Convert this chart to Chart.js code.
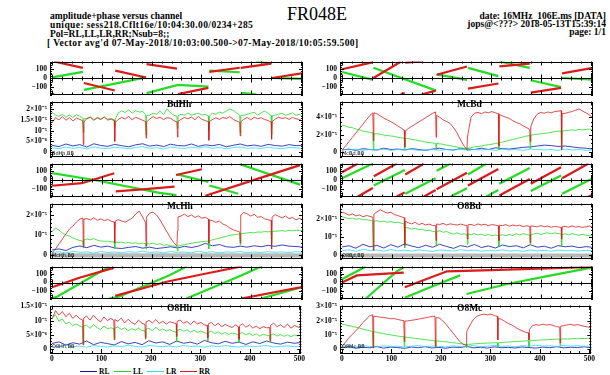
<!DOCTYPE html>
<html lang="en">
<head>
<meta charset="UTF-8">
<title>FR048E amplitude+phase versus channel</title>
<script src="https://cdn.jsdelivr.net/npm/chart.js"></script>
<style>
  body { margin: 0; width: 610px; height: 375px; background: #fff; position: relative; overflow: hidden; font-family: 'Liberation Serif', serif; color: #000; }
  canvas { position: absolute; }
  .hd { position: absolute; font-weight: bold; font-size: 9.5px; line-height: 9px; white-space: nowrap; }
  .title { position: absolute; left: 287px; top: 4px; font-size: 18px; }
  .lab { position: absolute; font-weight: bold; font-size: 9.5px; }
  .small { position: absolute; font-size: 5px; font-family: 'DejaVu Sans', sans-serif; }
  .leg { position: absolute; top: 367px; font-weight: bold; font-size: 7.5px; }
  .legline { position: absolute; top: 371px; height: 1px; width: 17px; }
</style>
</head>
<body>
<div class="title">FR048E</div>
<div class="hd" style="left:50px;top:12px">amplitude+phase versus channel</div>
<div class="hd" style="left:50px;top:21px;letter-spacing:0.4px">unique: sess218.Cflt16e/10:04:30.00/0234+285</div>
<div class="hd" style="left:50px;top:30px">Pol=RL,LL,LR,RR;Nsub=8;;</div>
<div class="hd" style="left:47px;top:39px;letter-spacing:0.4px">[ Vector avg'd 07-May-2018/10:03:00.500-&gt;07-May-2018/10:05:59.500]</div>
<div class="hd" style="right:4px;top:12px;text-align:right">date: 16MHz_106E.ms [DATA]</div>
<div class="hd" style="right:4px;top:20px;text-align:right">jops@&lt;???&gt; 2018-05-13T15:39:14</div>
<div class="hd" style="right:4px;top:28px;text-align:right">page: 1/1</div>

<div class="legline" style="left:80px;background:#1010b0"></div><div class="leg" style="left:99px">RL</div>
<div class="legline" style="left:114px;background:#22dd22"></div><div class="leg" style="left:133px">LL</div>
<div class="legline" style="left:147px;background:#22ddff"></div><div class="leg" style="left:166px">LR</div>
<div class="legline" style="left:180px;background:#dd1a1a"></div><div class="leg" style="left:199px">RR</div>

<script>
// channels for parallel hands (with points either side of each subband edge)
const chans = [0,7,14,21,28,35,42,49,56, 62,63,64,
  70,77,84,91,98,105,112,119, 125,126,127,
  133,140,147,154,161,168,175,182, 188,189,190,
  196,203,210,217,224,231,238,245, 251,252,253,
  259,266,273,280,287,294,301,308, 314,315,316,
  322,329,336,343,350,357,364,371, 377,378,379,
  385,392,399,406,413,420,427,434, 440,441,442,
  448,455,462,469,476,483,490,497,504];
// channels for cross hands
const chansX = [0,14,28,42,56,70,84,98,112,126,140,154,168,182,196,210,224,238,252,266,280,294,308,322,336,350,364,378,392,406,420,434,448,462,476,490,504];

const xTicks = [0,100,200,300,400,500];
const phaseTicks = [-100,0,100];
// amplitudes are in units of 1e-6
const ampLabels = {0:'0', 5:'5×10⁻⁶', 10:'10⁻⁵', 15:'1.5×10⁻⁵', 20:'2×10⁻⁵', 30:'3×10⁻⁵', 40:'4×10⁻⁵'};

// ---- BdHh ----
const bdhhRR = [13.5,16,15,16.5,14.8,16,14.5,15.8,15.2, 14.5,3.5,14,
  15.6,16.2,14.8,15.9,15.1,16.4,14.9,15.3, 14.6,5,13.8,
  15.2,16.1,15.4,16.6,15,16.2,15.5,14.8, 14.2,6.5,14,
  15.3,16.5,15.6,16.2,15.1,16,15.7,14.6, 14,7,14.3,
  15.2,16.1,15.5,16.3,15,16.6,15.2,14.7, 14.1,5.5,14.2,
  15.1,16,15.2,16.1,15.6,16.5,15.2,14.4, 13.8,7.5,14.1,
  15.2,16.1,15,16.2,15.5,16,15.1,14.7, 14,6,14.2,
  15.3,16.2,15.6,16,15.2,16.1,15.5,15.1,14.2];
const bdhhLL = [18.5,17.2,16.6,17.6,16.2,17.3,16.1,17.4,16.6, 15.8,9,15.5,
  15.6,16.3,15.1,16.2,15.4,16.1,15.3,15.6, 15,12,15.2,
  18.2,19.1,18.4,19.6,18.1,19.2,18.6,18.9, 17.5,8,17,
  17.2,18.1,17.6,19.2,17.4,20.1,18.2,17.1, 16.5,11,16.8,
  17.6,17.1,18.2,17.2,17.6,18.1,17.2,17.5, 16.8,10,16.6,
  18.1,17.6,18.6,18.1,19.1,20,19.4,18.2, 17.2,9,17,
  17.1,17.6,18.1,18.5,17.2,18.2,19.1,18, 17,8,16.8,
  17.2,17.6,18.1,17.1,17.6,18.2,17.1,17.6,16.5];
const bdhhRL = [3.2,2.6,3.8,2.9,3.5,2.4,3.9,3.1,2.7,3.6,3,2.5,3.4,3.9,2.8,3.3,2.6,3.7,3.1,2.9,3.8,2.7,3.4,3,3.6,2.5,3.2,3.8,2.9,3.3,2.7,3.6,3.1,2.8,3.5,3,3.2];
const bdhhLR = [2.1,1.6,2.4,1.8,2.2,1.5,2.5,1.9,1.7,2.3,2,1.6,2.2,2.6,1.8,2.1,1.5,2.4,2,1.7,2.3,1.9,2.5,1.8,2.2,1.6,2.1,2.4,1.8,2,1.7,2.3,1.9,1.6,2.2,2,1.8];
const bdhhPhRR = [[0,-165],[4,-180],null,[4,180],[62,111],null,[64,-54],[126,-136],null,[127,81],[189,6],null,[190,152],[251,102],null,[253,-176],[314,-108],null,[316,66],[377,112],null,[379,110],[440,156],null,[442,0],[504,54]];
const bdhhPhLL = [[0,6],[62,66],null,[64,-130],[189,6],null,[190,-165],[253,-75],[314,-94],null,[316,81],[377,63],null,[379,-162],[410,-178],null,[410,178],[440,160],null,[442,0],[504,-10]];

// ---- McBd ----
const mcbdRR = [2,7,12,17,22,27,32,37,42, 45,13,45,
  44,41.5,39,37,35,32.5,30,27.5, 25,6,24,
  27,29.5,32,34.5,37,39.5,42,44.5, 46,17,42,
  40,37,35,33,28,22,14,7, 3,19,21,
  40,44.5,45.5,44,46,45,46.5,45, 44,7,43,
  41.5,40,38.5,36,34,32.5,30,28, 26,12,29,
  38,43.5,45.5,44.5,46,45,46.5,47, 47.5,3,44,
  44.5,45.5,46.5,48,49.5,47,45,42.5,39];
const mcbdLL = [31,30,28.5,28,26.5,25.5,24,23.5,22.5, 22,3,21,
  21,20.5,19.5,19,18.5,18,17,16.5, 16,4,15.5,
  15.5,14.5,14,13,12.5,11.5,11,10.5, 10,3,10,
  9.5,9,8,7.5,6.5,6,5,4.5, 4,2,4.5,
  5,6,6.5,7,8,8.5,9,10, 10.5,3,11,
  11.5,12.5,13.5,14.5,15.5,16.5,17.5,18.5, 19,4,19.5,
  20,20.5,21,21.5,22,22.5,23.5,24, 24,3,24.5,
  24.5,25,25.5,25,26,25.5,26,26.5,25.5];
const mcbdRL = [2.5,3.5,2,4,3,2.5,4.5,3,3.5,2.5,4,3,2,3.5,4.5,3,2.5,4,3.5,3,4.5,3,5,4,3.5,4.5,5.5,6,7,8,7.5,6.5,7,6,5,4.5,3.5];
const mcbdLR = [3,2.5,3.5,2,3,2.5,3.5,2,3,2.5,3,2,2.5,3,2,3,2.5,3.5,2,3,2.5,3,2,3.5,2.5,3,2,3.5,3,2.5,3,2,3.5,2.5,3,2,2.5];
const mcbdPhRR = [[0,96],[61,171],null,[63,0],[118,178],null,[118,-178],[126,-165],null,[127,168],[160,180],null,[160,-180],[188,-138],null,[190,36],[251,126],null,[253,-115],[314,-60],null,[316,126],[377,156],null,[379,-160],[440,-108],null,[442,51],[504,111]];
const mcbdPhLL = [[0,66],[61,-18],null,[63,111],[189,-138],null,[190,40],[251,-20],null,[253,111],[314,21],null,[316,180],[377,111],null,[379,-24],[440,-99],null,[442,0],[504,-18]];

// ---- McHh ----
const mchhRR = [1,3,5.5,8,10.5,13,14.5,16.5,18, 18.5,4,18,
  18.2,17.5,18.6,17.4,18.1,17.2,17.8,16.9, 16.5,6,17,
  17.7,17,16.5,17.4,18.5,20.5,22,19, 16,4.5,19,
  21,21.5,20,17.5,14.5,11.5,8.5,6, 4.5,12,19,
  19.5,20.5,19.2,20.1,18.8,19.6,18.4,18.9, 18,6,17.5,
  17.2,16.3,17,15.5,14.8,13.5,12.6,12, 11.5,6,20,
  21.3,20.6,19.5,20.4,18.9,19.2,18.1,17.6, 17.3,3,19,
  20.2,19.4,18.6,19.5,18.2,18.8,17.6,18.3,17.5];
const mchhLL = [11.5,13.5,12.5,11,10,9.5,8.5,7.8,7.2, 7,3.5,7.5,
  8,7.6,8.2,7.4,7,6.8,6.9,6.5, 6.6,3,6.4,
  6.2,6.5,5.9,6.3,5.8,6.1,5.5,5.9, 5.6,3,5.7,
  5.5,5.9,5.2,5.6,4.8,5.1,4.6,4.4, 4.2,2,4.5,
  4.8,5.2,5.5,5.8,6.2,6.4,6.6,6.8, 6.9,3,7.2,
  7.5,8,8.4,8.9,9.3,9.8,10.1,10.3, 10.5,5,10.6,
  10.8,11,11.3,11.1,11.5,11.4,11.7,11.6, 11.7,6,11.8,
  11.9,12,12.2,11.9,12.3,12.1,12.4,12.2,12.5];
const mchhRL = [2.5,3,2.2,3.8,4.5,3.6,4.8,3.9,4.4,3.5,3.2,3.8,4.2,3.4,3.9,3.2,3.6,4.1,3.5,4.3,3.7,4.4,5.8,4.6,5.2,4.1,3.8,4.4,3.9,4.6,4.1,4.8,4.3,5,4.4,4.2,3.9];
const mchhLR = [1.2,1.6,1,1.8,1.3,1.5,0.9,1.7,1.2,1.4,1.1,1.6,1.3,1.9,1.2,1.5,1,1.7,1.3,1.4,1.1,1.8,1.2,1.6,1,1.5,1.3,1.7,1.1,1.4,1.2,1.6,1.3,1.5,1.1,1.7,1.2];
const mchhPhRR = [[0,-63],[60,-35],[125,74],null,[128,-125],[188,-99],[246,-72],null,[249,54],[301,117],null,[308,-171],[400,-10],[498,162]];
const mchhPhLL = [[0,75],[85,0],[216,-141],[250,-165],null,[252,60],[314,-20],null,[316,-60],[374,-150],null,[376,174],[498,-50]];

// ---- O8Bd ----
const o8bdRR = [24,23.5,22.4,23.1,22,22.6,21.5,22.2,21.8, 21.2,2.5,23,
  24.2,25.5,24.4,23.6,24.1,22.8,22.2,21.5, 21,5.5,19,
  18.2,17.5,18.4,17.1,17.8,16.9,17.4,16.6, 16.5,8,17.5,
  17.1,17.8,16.9,17.5,17.2,16.8,17.4,16.9, 16.5,9,17,
  17.2,16.6,17.5,16.9,17.3,16.5,17.1,16.8, 16.4,8,16.7,
  16.5,17.1,16.2,16.9,16.4,16.8,15.9,16.5, 16,7,16.4,
  16.2,15.8,16.6,15.9,16.3,15.6,16.1,15.8, 15.5,9,15.9,
  16.1,15.6,16.4,15.7,16,15.5,15.9,16.3,15.6];
const o8bdLL = [21.5,21,20.4,20.8,20.1,20.5,19.8,19.9,19.5, 19.2,3,19,
  19.3,18.6,19.1,18.4,18.8,18.2,18.5,17.9, 17.5,4,15.5,
  15.2,14.6,15,14.2,14.5,13.6,13.9,13.3, 13,5,13.2,
  13.6,12.8,13.2,12.4,11.8,12.5,11.6,11.9, 11.5,6,11.8,
  11.4,12.1,11.2,11.8,10.9,11.5,10.8,11.3, 10.9,5,11.1,
  11.4,10.8,11.6,11,11.9,11.3,12,11.5, 11.2,6,11.5,
  11.8,12.3,11.6,12.1,12.5,11.9,12.4,12.1, 11.8,5,11.5,
  11.9,11.3,12,11.5,11.1,11.7,11.2,10.8,11];
const o8bdRL = [4.5,5.2,3.8,6,4.6,5.4,3.9,5.8,4.4,6.2,5,4.1,5.5,4.3,6,4.8,3.7,5.3,4.5,5.9,4.2,5.1,3.9,5.6,4.7,5.2,4,5.8,4.4,4.9,3.8,5.3,4.6,5,4.1,4.7,4.3];
const o8bdLR = [2.4,2.9,2,3.2,2.5,2.8,2.1,3.1,2.3,2.7,2.2,2.9,2.4,2,2.8,2.5,2.2,3,2.4,2.7,2.1,2.6,2.3,2.9,2.2,2.5,2,2.8,2.3,2.6,2.1,2.7,2.4,2.5,2.2,2.6,2.3];
const o8bdPhRR = [[0,84],[32,180],null,[32,-180],[62,-87],null,[64,40],[110,180],null,[110,-180],[126,-135],null,[127,60],[165,180],null,[165,-180],[188,-110],null,[190,-100],[251,80],null,[253,-60],[314,120],null,[316,-170],[377,10],null,[379,-40],[440,140],null,[442,20],[495,180],null,[495,-180],[504,-160]];
const o8bdPhLL = [[0,20],[62,180],null,[64,-60],[126,110],null,[127,-150],[188,20],null,[190,100],[218,180],null,[218,-180],[251,-90],null,[253,60],[290,180],null,[290,-180],[314,-110],null,[316,-40],[377,130],null,[379,-120],[440,50],null,[442,-150],[504,20]];

// ---- O8Hh ----
const o8hhRR = [10.5,13.5,12,13.2,11.4,12.6,10.8,11.9,10.7, 10.2,1.6,10.9,
  11.6,10.2,11.9,10.5,9.6,11.3,10,10.8, 10.1,3.5,10.4,
  9.8,10.9,9.2,10.5,9.4,8.7,10.2,9.1, 8.6,3.9,9.5,
  10.1,9.2,10.4,9,9.8,8.8,9.6,9.3, 8.9,4.5,9.8,
  10.2,9.1,9.7,8.6,9.9,8.9,9.4,8.5, 8.3,4,8.9,
  9.4,8.2,9.1,7.9,8.7,8.1,7.6,8.5, 7.8,3.5,8.2,
  8.9,7.7,8.5,7.4,8.1,7.2,7.9,7.5, 7.6,3,8.4,
  9.1,7.9,8.6,7.6,8.8,7.4,8.3,7.8,7.5];
const o8hhLL = [11.2,12,9.8,10.6,8.9,9.5,8.3,8.9,8.1, 7.8,1.5,8.2,
  8.4,7.3,8.7,7.6,6.9,8.1,7.2,7.5, 7.1,3.2,7.4,
  7.8,6.9,7.5,6.5,7.2,6.7,7.4,6.6, 6.4,3.5,7,
  7.3,6.5,7.7,6.6,7.1,6.4,6.9,6.2, 6,2.5,6.6,
  7,6.3,6.8,6,6.6,5.9,6.4,5.8, 5.6,3,6,
  6.3,5.5,6.1,5.3,5.9,5.2,5.7,5.4, 5.1,2.2,5.5,
  5.8,5,5.6,4.8,5.4,4.6,5.2,4.9, 4.7,2.5,5,
  5.4,4.6,5.2,4.5,5.1,4.4,5,4.7,4.9];
const o8hhRL = [2,2.6,1.5,2.3,1.8,2.9,1.6,2.4,2,1.5,2.7,1.9,2.4,1.6,3,2.2,2.6,1.7,2.9,2.1,2.5,1.8,3.1,2.3,1.9,2.8,2.1,2.5,1.7,2.6,2,2.9,2.2,1.8,2.5,2.1,2.4];
const o8hhLR = [1.2,0.8,1.4,0.9,1.1,0.7,1.3,1,0.8,1.2,0.9,1.4,1,0.8,1.3,1.1,0.9,1.2,0.8,1.3,1,1.1,0.7,1.2,0.9,1.3,1,0.8,1.2,0.9,1.1,1.3,0.8,1,1.2,0.9,1.1];
const o8hhPhRR = [[0,-54],[55,54],[124,165],null,[127,-150],[230,9],[300,90],[380,180],null,[380,-180],[504,-50]];
const o8hhPhLL = [[0,-175],[10,-160],[85,81],[115,180],null,[115,-180],[134,-160],[236,81],[270,180],null,[270,-180],[380,80],[420,180],null,[420,-180],[504,-50]];

// ---- O8Mc ----
const o8mcRR = [2,5,8,10.5,13,15.5,18.5,21,23.5, 24,1,23,
  22.9,22.4,22.1,21.8,21.3,21.4,20.9,20.3, 20,5.4,19.6,
  19.8,20.2,20.6,21,21.5,21.9,22.4,22.9, 23,2,22,
  22,20,17.5,14.5,11.5,8.5,5.5,3.5, 3,12,13,
  17,21,23,24,24.5,24,24.5,23.5, 23,6.5,21.5,
  21,19.5,18,17,15.5,14,13,12, 11.5,6.5,14,
  16.5,17.2,16.8,17.5,16.9,17.3,16.6,15.8, 15.5,4.5,16,
  16.5,17,17.4,16.8,17.2,16.6,16,15.6,15];
const o8mcLL = [17.6,17,16.5,16,15.4,14.8,14.2,13.5,12.9, 12.5,1.5,12.3,
  11.9,11.4,11,10.5,10.1,9.7,9.3,9, 8.8,2,8.6,
  8.3,8,7.7,7.4,7.1,6.8,6.5,6.2, 6,1.5,5.9,
  5.7,5.5,5.3,5,4.7,4.4,4,3.7, 3.4,1.2,3.5,
  3.6,3.8,4,4.1,4.3,4.4,4.5,4.6, 4.6,1.5,4.7,
  4.8,5,5.1,5.3,5.4,5.6,5.7,5.9, 6,2,6,
  6.2,6.3,6.5,6.6,6.7,6.9,7,7.1, 7.1,2.5,7.2,
  7.3,7.2,7.4,7.5,7.4,7.6,7.5,7.7,7.6];
const o8mcRL = [1.2,1.8,0.8,1.5,1.1,2,0.9,1.6,1.3,0.7,1.7,1.2,1.9,1,1.4,0.8,1.6,1.3,2.1,1.1,1.5,0.9,1.8,1.2,1.4,1,1.7,1.3,0.9,1.6,1.2,1.9,1.1,1.5,1.3,1.8,1.2];
const o8mcLR = [2,2.4,1.7,2.6,2.1,1.8,2.5,2,2.3,1.6,2.2,2.7,1.9,2.4,2.1,1.7,2.5,2,2.3,2.6,1.9,2.2,2.8,2.1,2.4,1.8,2.6,2.2,2.9,2.3,2.5,2,2.7,2.3,2.6,2.1,2.4];
const o8mcPhRR = [[0,0],[30,80],[124,111],null,[126,-54],[211,126],[300,140],[504,175]];
const o8mcPhLL = [[0,36],[30,126],[48,180],null,[48,-180],[110,126],[124,170],null,[126,-171],[177,-54],[237,80],null,[250,-130],[330,-20],[420,80],[504,170]];

const RED = '#dd1a1a', GREEN = '#22dd22', BLUE = '#1010b0', CYAN = '#22ddff';

// panel layout: canvas column left, chart area tops/bottoms
const panels = [
  {name:'BdHh', col:0, ph:[58,98], amp:[98,160], y:[-2,23.5], major:[0,5,10,15,20], minor:1,
   rr:bdhhRR, ll:bdhhLL, rl:bdhhRL, lr:bdhhLR, prr:bdhhPhRR, pll:bdhhPhLL},
  {name:'McBd', col:1, ph:[58,98], amp:[98,160], y:[-5,58], major:[0,20,40], minor:5,
   rr:mcbdRR, ll:mcbdLL, rl:mcbdRL, lr:mcbdLR, prr:mcbdPhRR, pll:mcbdPhLL},
  {name:'McHh', col:0, ph:[160,200], amp:[200,262], y:[-1.8,25.8], major:[0,10,20], minor:2, band:true,
   rr:mchhRR, ll:mchhLL, rl:mchhRL, lr:mchhLR, prr:mchhPhRR, pll:mchhPhLL},
  {name:'O8Bd', col:1, ph:[160,200], amp:[200,262], y:[-2,29], major:[0,10,20], minor:2, band:true,
   rr:o8bdRR, ll:o8bdLL, rl:o8bdRL, lr:o8bdLR, prr:o8bdPhRR, pll:o8bdPhLL},
  {name:'O8Hh', col:0, ph:[263,302], amp:[302,353], y:[-1.3,15.3], major:[0,5,10,15], minor:1, bottom:true,
   rr:o8hhRR, ll:o8hhLL, rl:o8hhRL, lr:o8hhLR, prr:o8hhPhRR, pll:o8hhPhLL},
  {name:'O8Mc', col:1, ph:[263,302], amp:[302,353], y:[-2.5,30.5], major:[0,10,20,30], minor:2, bottom:true,
   rr:o8mcRR, ll:o8mcLL, rl:o8mcRL, lr:o8mcLR, prr:o8mcPhRR, pll:o8mcPhLL}
];
const colLeft = [0, 290];

// frame, inward ticks, zero line and flag band
const framePlugin = {
  id: 'frame',
  beforeDatasetsDraw(chart, args, opts) {
    if (!opts.band) return;
    const a = chart.chartArea, ctx = chart.ctx;
    const top = chart.scales.y.getPixelForValue(0.8);
    ctx.save();
    ctx.fillStyle = '#b8b8b8';
    ctx.fillRect(a.left, top, a.right - a.left, a.bottom - top - 1);
    ctx.restore();
  },
  afterDraw(chart, args, opts) {
    const {ctx, chartArea: a} = chart;
    const x = chart.scales.x, y = chart.scales.y;
    ctx.save();
    ctx.strokeStyle = '#000';
    ctx.lineWidth = 1;
    ctx.strokeRect(Math.round(a.left) + 0.5, Math.round(a.top) + 0.5, Math.round(a.right - a.left) - 1, Math.round(a.bottom - a.top) - 1);
    ctx.beginPath();
    const zy = Math.round(y.getPixelForValue(0)) + 0.5;
    for (let c = 0; c <= 500; c += 20) {
      const px = Math.round(x.getPixelForValue(c)) + 0.5;
      const len = c % 100 === 0 ? 4 : 2;
      ctx.moveTo(px, a.bottom); ctx.lineTo(px, a.bottom - len);
      ctx.moveTo(px, a.top); ctx.lineTo(px, a.top + len);
      if (opts.zero) { ctx.moveTo(px, zy - len); ctx.lineTo(px, zy + len); }
    }
    const first = Math.ceil(y.min / opts.minor);
    const last = Math.floor(y.max / opts.minor);
    for (let i = first; i <= last; i++) {
      const v = i * opts.minor;
      const py = Math.round(y.getPixelForValue(v)) + 0.5;
      const len = opts.major.includes(v) ? 4 : 2;
      ctx.moveTo(a.left, py); ctx.lineTo(a.left + len, py);
      ctx.moveTo(a.right, py); ctx.lineTo(a.right - len, py);
    }
    if (opts.zero) { ctx.moveTo(a.left, zy); ctx.lineTo(a.right, zy); }
    ctx.stroke();
    ctx.restore();
  }
};

function toPoints(xs, ys) { return xs.map((c, i) => ({x: c, y: ys[i]})); }
function pairPoints(pairs) {
  let last = 0;
  return pairs.map(p => {
    if (!p) return {x: last, y: null};
    last = p[0];
    return {x: p[0], y: p[1]};
  });
}

const tickFont = {family: 'Liberation Serif', size: 7.5, weight: 'bold'};

function makeChart(left, top, areaH, showX, datasets, yopts, frame) {
  const canvas = document.createElement('canvas');
  const w = 50 + 253 + 4;
  const h = areaH + 8 + (showX ? 12 : 0);
  canvas.width = w; canvas.height = h;
  canvas.style.left = left + 'px';
  canvas.style.top = (top - 4) + 'px';
  document.body.appendChild(canvas);
  new Chart(canvas, {
    type: 'line',
    data: {datasets},
    options: {
      responsive: false, animation: false, devicePixelRatio: 1,
      layout: {padding: {left: 0, right: 4, top: 4, bottom: 4}},
      elements: {point: {radius: 0}, line: {tension: 0}},
      spanGaps: false,
      plugins: {legend: {display: false}, tooltip: {enabled: false}, frame},
      scales: {
        x: {
          type: 'linear', min: -4, max: 504, display: showX,
          grid: {display: false, drawTicks: false}, border: {display: false},
          ticks: {font: tickFont, color: '#000', padding: 2, maxRotation: 0, autoSkip: false},
          afterBuildTicks(s) { s.ticks = xTicks.map(v => ({value: v})); },
          afterFit(s) { s.height = showX ? 12 : 0; }
        },
        y: {
          min: yopts.min, max: yopts.max,
          grid: {display: false, drawTicks: false}, border: {display: false},
          ticks: {font: tickFont, color: '#000', padding: 3, autoSkip: false, callback: yopts.label},
          afterBuildTicks(s) { s.ticks = yopts.ticks.map(v => ({value: v})); },
          afterFit(s) { s.width = 50; }
        }
      }
    },
    plugins: [framePlugin]
  });
}

function addText(cls, text, left, top) {
  const d = document.createElement('div');
  d.className = cls; d.textContent = text;
  d.style.left = left + 'px'; d.style.top = top + 'px';
  document.body.appendChild(d);
}

panels.forEach(p => {
  const left = colLeft[p.col];
  // phase
  makeChart(left, p.ph[0], p.ph[1] - p.ph[0], false, [
    {data: pairPoints(p.prr), borderColor: RED, borderWidth: 2.2},
    {data: pairPoints(p.pll), borderColor: GREEN, borderWidth: 2.2}
  ], {min: -180, max: 180, ticks: phaseTicks, label: v => String(v).replace('-', '−')},
  {zero: true, major: phaseTicks, minor: 20});
  // amplitude
  makeChart(left, p.amp[0], p.amp[1] - p.amp[0], !!p.bottom, [
    {data: toPoints(chans, p.rr), borderColor: RED, borderWidth: 0.8},
    {data: toPoints(chans, p.ll), borderColor: GREEN, borderWidth: 0.8},
    {data: toPoints(chansX, p.lr), borderColor: CYAN, borderWidth: 0.8},
    {data: toPoints(chansX, p.rl), borderColor: BLUE, borderWidth: 0.8}
  ], {min: p.y[0], max: p.y[1], ticks: p.major, label: v => ampLabels[v]},
  {zero: false, major: p.major, minor: p.minor, band: !!p.band});
  const areaLeft = left + 50;
  addText('lab', p.name, areaLeft + 117, p.amp[0] + 1);
  addText('small', p.name + ',BB', areaLeft + 2, p.amp[1] - 10);
});
</script>
</body>
</html>
